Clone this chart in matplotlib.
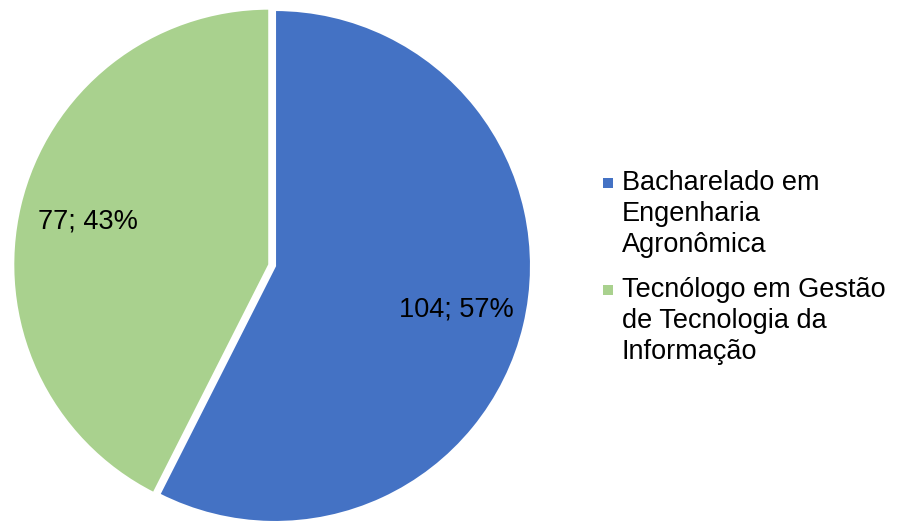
import matplotlib
matplotlib.use('agg')

import matplotlib.pyplot as plt
from matplotlib.patches import Rectangle

categories = ['Bacharelado em\nEngenharia\nAgronômica',
              'Tecnólogo em Gestão\nde Tecnologia da\nInformação']
counts = [104, 77]
colors = ['#4472C4', '#A9D18E']
explode = [0, 0.023]

plt.rcParams['font.family'] = ['Liberation Sans', 'DejaVu Sans']

W, H = 900, 523
cx, cy, r = 275, 266, 256  # pie centre and radius in pixels (from top-left)

fig = plt.figure(figsize=(W / 100, H / 100), dpi=100)
ax = fig.add_axes([0, 0, 1, 1])

total = sum(counts)


def fmt(p):
    return '{:d}; {:.0f}%'.format(int(round(p * total / 100)), p)


wedges, texts, autotexts = ax.pie(
    counts, colors=colors, startangle=90, counterclock=False,
    explode=explode, radius=1, autopct=fmt, pctdistance=0.73,
    wedgeprops=dict(edgecolor='white', linewidth=1.5),
    textprops=dict(fontsize=19.5, color='black'))

# pie() resets the view, so fix the limits afterwards
ax.set_xlim(-cx / r, (W - cx) / r)
ax.set_ylim((cy - H) / r, cy / r)
ax.set_aspect('auto')
ax.axis('off')

# legend drawn by hand so the marker sits beside the first line
lx, ly = 622, 183
pitch = 31
for name, col in zip(categories, colors):
    lines = name.split('\n')
    fig.patches.append(Rectangle(((lx - 19) / W, 1 - (ly + 5) / H), 10 / W, 10 / H,
                                 transform=fig.transFigure, facecolor=col,
                                 edgecolor='none'))
    for i, line in enumerate(lines):
        fig.text(lx / W, 1 - (ly + i * pitch) / H, line, fontsize=19.5,
                 ha='left', va='center')
    ly += len(lines) * pitch + 14

fig.savefig('out.png', dpi=100)
